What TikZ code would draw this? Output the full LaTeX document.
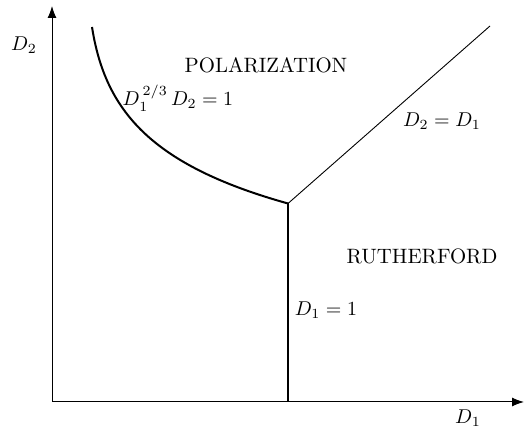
\documentclass[tikz,border=0pt]{standalone}
\usetikzlibrary{arrows.meta}
\begin{document}
\begin{tikzpicture}[x=0.5pt,y=-0.5pt,
  axis/.style={line width=0.5pt,-{Latex[length=6pt,width=4.5pt]}},
  boundary/.style={line width=1pt},
  thinline/.style={line width=0.45pt},
  lbl/.style={inner sep=0pt,font=\fontsize{10.4}{12}\selectfont}]
\useasboundingbox (0,0) rectangle (526,431);
\coordinate (O) at (52,402);
\coordinate (X) at (524,402);
\coordinate (Y) at (52,6);
\coordinate (S) at (92,27);
\coordinate (T) at (288,203.5);
\coordinate (B) at (288,402);
\coordinate (E) at (490,26);
\draw[axis] (O) -- (X);
\draw[axis] (O) -- (Y);
\draw[boundary] (S) .. controls (105,110) and (150,165) .. (T);
\draw[boundary] (T) -- (B);
\draw[thinline] (T) -- (E);
\node[lbl] (d2) at (24,45) {$D_2$};
\node[lbl] (d1) at (468,418) {$D_1$};
\node[lbl] (pol) at (266,65) {POLARIZATION};
\node[lbl] (cur) at (178,98) {$D_1^{\,2/3}\,D_2=1$};
\node[lbl] (diag) at (442,121) {$D_2=D_1$};
\node[lbl] (ruth) at (422,256) {RUTHERFORD};
\node[lbl] (vert) at (326,310) {$D_1=1$};
\end{tikzpicture}
\end{document}
